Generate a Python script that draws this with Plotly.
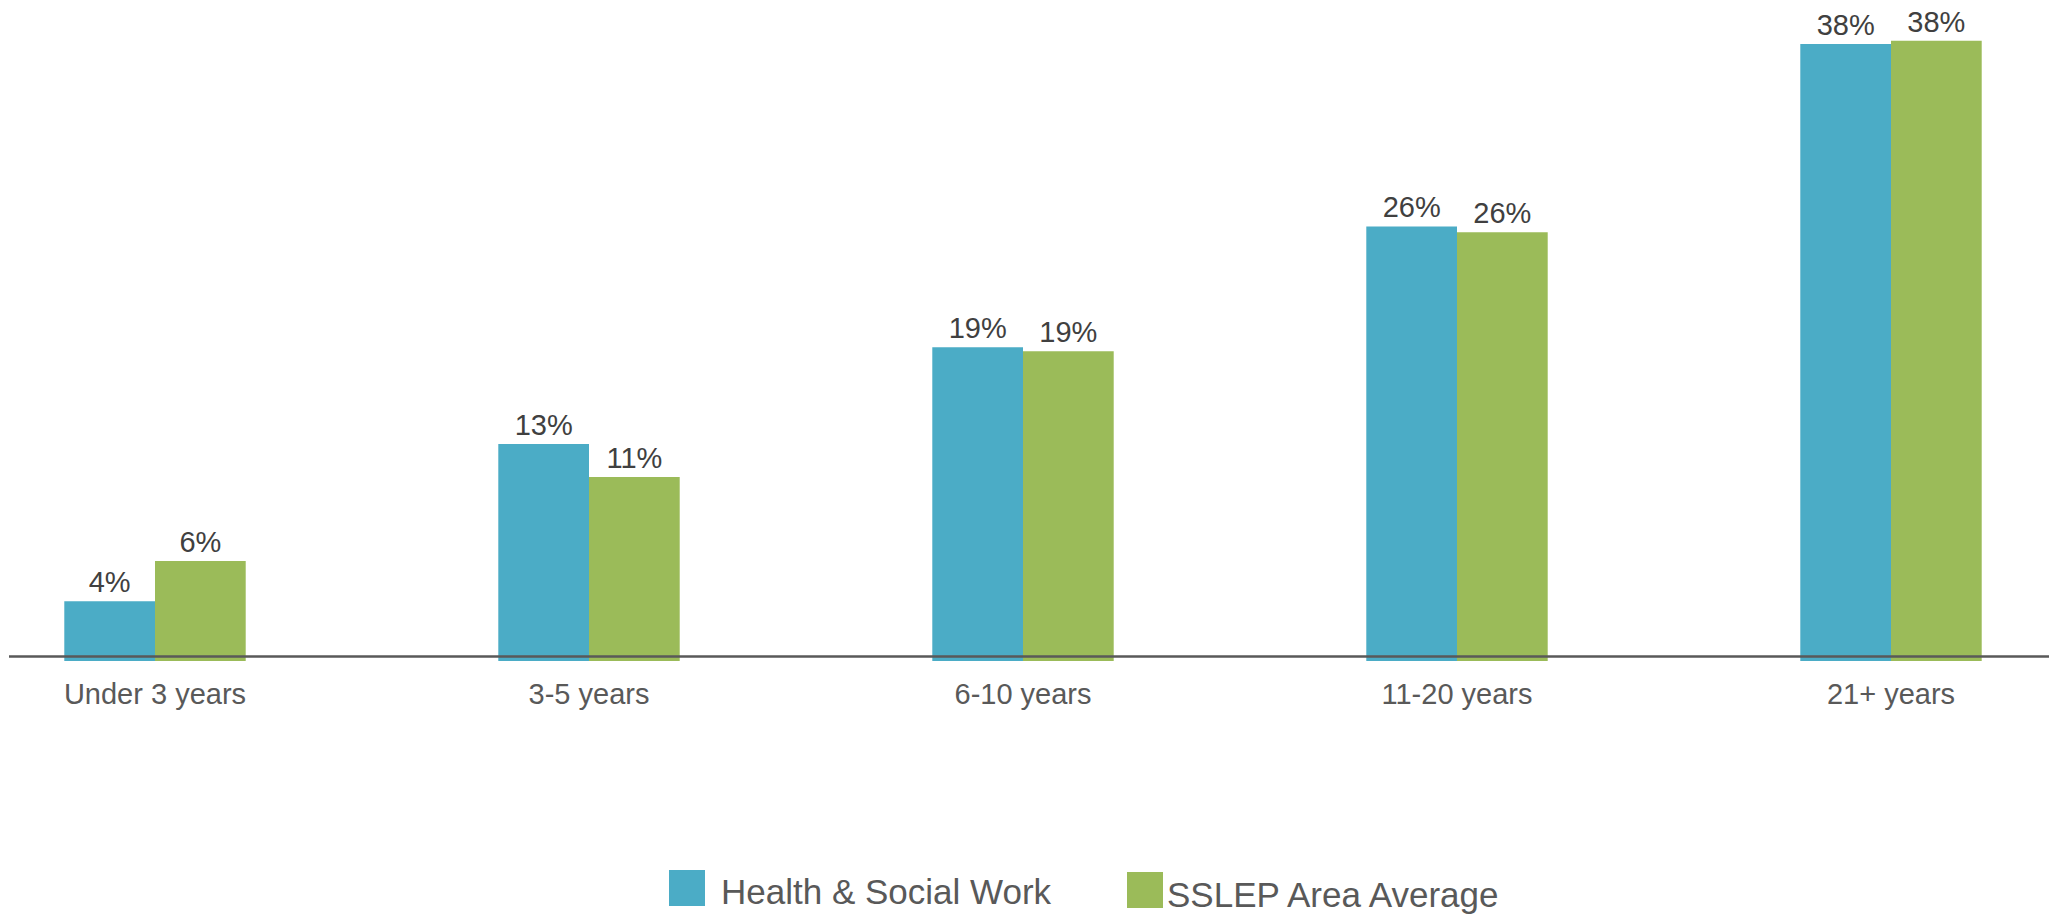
import plotly.graph_objects as go

categories = ["Under 3 years", "3-5 years", "6-10 years", "11-20 years", "21+ years"]
health = [3.63, 13.2, 19.1, 26.45, 37.55]
sslep = [6.09, 11.2, 18.85, 26.1, 37.75]
series_names = ["Health & Social Work", "SSLEP Area Average"]
colors = ["#4BACC6", "#9BBB59"]

W, H = 2060, 915
ML, MR, MT, MB = 9, 11, 0, 254
PW, PH = W - ML - MR, H - MT - MB
PX_PER_UNIT = 16.43
YMAX = PH / PX_PER_UNIT
FONT = "Liberation Sans, Arial, sans-serif"

def px_x(p):
    return (p - ML) / PW

def px_y(p):
    return (H - MB - p) / PH

fig = go.Figure()
for name, vals, col in zip(series_names, [health, sslep], colors):
    fig.add_trace(go.Bar(
        x=categories, y=vals, name=name, marker_color=col,
        marker_line_width=0,
        texttemplate="%{y:.0f}%", textposition="outside",
        textfont=dict(family=FONT, size=29, color="#404040"),
        cliponaxis=False, showlegend=False,
    ))

# axis line slightly above the bar bases, as in the reference
fig.add_shape(type="line", xref="paper", yref="y", x0=0, x1=1,
              y0=4.5 / PX_PER_UNIT, y1=4.5 / PX_PER_UNIT,
              line=dict(color="#595959", width=2.3))

# custom legend
legend_items = [
    (series_names[0], colors[0], (669, 705, 870, 906), (719, 892)),
    (series_names[1], colors[1], (1127, 1163, 872, 908), (1165, 895)),
]
for name, col, (x0, x1, y0, y1), (tx, ty) in legend_items:
    fig.add_shape(type="rect", xref="paper", yref="paper",
                  x0=px_x(x0), x1=px_x(x1), y0=px_y(y1), y1=px_y(y0),
                  fillcolor=col, line_width=0)
    fig.add_annotation(text=name, xref="paper", yref="paper",
                       x=px_x(tx), y=px_y(ty), xanchor="left", yanchor="middle",
                       showarrow=False,
                       font=dict(family=FONT, size=35, color="#595959"))

fig.update_layout(
    width=W, height=H,
    margin=dict(l=ML, r=MR, t=MT, b=MB, pad=0),
    paper_bgcolor="white", plot_bgcolor="white",
    barmode="group", bargap=0.582, bargroupgap=0,
    showlegend=False,
    xaxis=dict(range=[(ML - 155) / 434, (W - MR - 155) / 434],
               showgrid=False, zeroline=False, showline=False,
               ticks="outside", ticklen=7, tickcolor="rgba(0,0,0,0)",
               tickfont=dict(family=FONT, size=29, color="#595959")),
    yaxis=dict(range=[0, YMAX], visible=False, showgrid=False, zeroline=False),
)

fig.write_html("out.html")
